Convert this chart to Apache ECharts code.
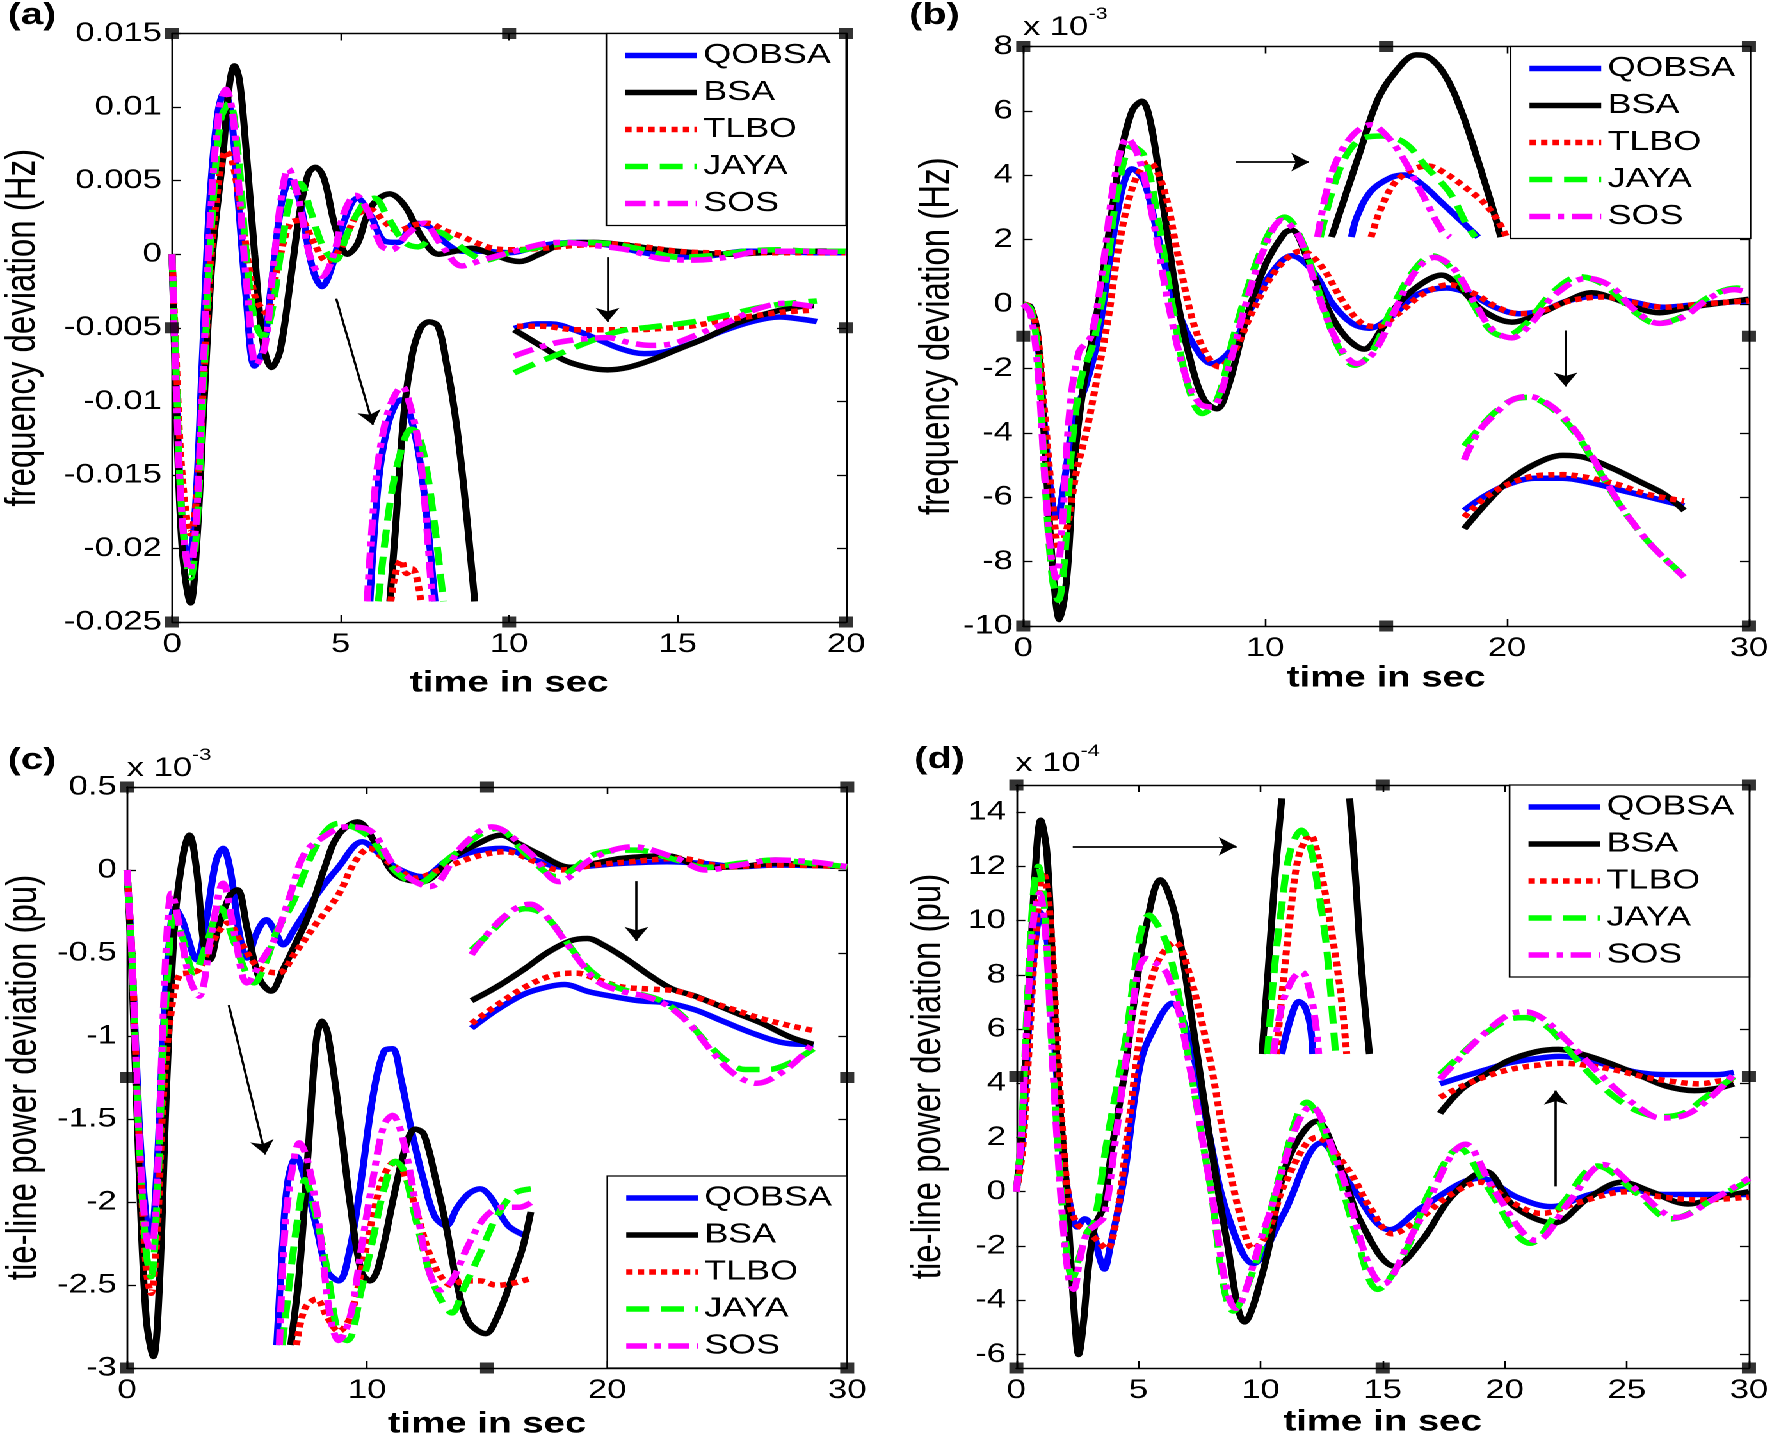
<!DOCTYPE html>
<html>
<head>
<meta charset="utf-8" />
<title>frequency and tie-line deviations</title>
<script src="https://cdn.jsdelivr.net/npm/echarts@6/dist/echarts.min.js"></script>
<style type="text/css">
body, html {
	margin: 0;
	padding: 0;
	background: #fff;
	overflow: hidden;
}
/* the original figure is stretched sideways, so the chart is drawn narrow and widened */
#chart {
	width: 1384px;
	height: 1442px;
	transform: scaleX(1.28035);
	transform-origin: 0 0;
}
</style>
</head>
<body>
<div id="chart"></div>
<script>
const algorithms = ['QOBSA', 'BSA', 'TLBO', 'JAYA', 'SOS'];

// ---------- (a) frequency deviation, area 1 ----------
const aXTicks = [0, 20, 5];
const aYTicks = [-0.025, 0.015, 0.005];
const aQobsa = [[0,0],[0.12,-0.009],[0.3,-0.018],[0.5,-0.021],[0.7,-0.017],[0.9,-0.007],[1.1,0.003],[1.35,0.0095],[1.55,0.011],[1.75,0.0095],[1.95,0.004],[2.2,-0.003],[2.45,-0.0076],[2.7,-0.0065],[2.95,-0.002],[3.25,0.0035],[3.5,0.005],[3.8,0.0035],[4.15,-0.0008],[4.45,-0.0022],[4.75,-0.0008],[5.1,0.0022],[5.5,0.0038],[5.9,0.0026],[6.3,0.0009],[6.7,0.0008],[7.2,0.0021],[7.6,0.0019],[8.1,0.0008],[8.6,0.0002],[9.2,0.0002],[10,0.0001],[11,0.0006],[12,0.0008],[13,0.0006],[14,0.0001],[15,-0.0002],[16,-0.0001],[17,0.0002],[18,0.0002],[19,0.0001],[20,0.0001]];
const aBsa = [[0,0],[0.12,-0.01],[0.3,-0.02],[0.55,-0.0237],[0.75,-0.019],[0.95,-0.01],[1.2,0],[1.5,0.0065],[1.7,0.0115],[1.85,0.0128],[2.0,0.0118],[2.2,0.007],[2.45,0],[2.7,-0.006],[2.95,-0.0077],[3.2,-0.0066],[3.5,-0.002],[3.8,0.003],[4.05,0.0055],[4.25,0.0059],[4.5,0.0052],[4.85,0.0018],[5.2,0],[5.5,0.0007],[5.9,0.0032],[6.45,0.0041],[6.9,0.0033],[7.4,0.0012],[7.9,0],[8.4,0.0002],[8.9,0.0004],[9.5,0],[10.3,-0.0005],[10.9,0],[11.6,0.0007],[12.5,0.0008],[13.5,0.0006],[14.5,0.0003],[15.5,0.0001],[16.5,0],[17.5,0.0001],[18.5,0.0002],[20,0.0002]];
const aTlbo = [[0,0],[0.12,-0.007],[0.3,-0.015],[0.55,-0.019],[0.75,-0.016],[0.95,-0.008],[1.2,0.001],[1.45,0.006],[1.6,0.007],[1.8,0.0062],[2.1,0.002],[2.45,-0.0028],[2.8,-0.004],[3.1,-0.0012],[3.5,0.0021],[3.8,0.0023],[4.2,0.0008],[4.6,-0.0005],[5.0,0.0004],[5.5,0.0027],[5.9,0.003],[6.3,0.0022],[6.7,0.0016],[7.2,0.002],[7.6,0.0021],[8.1,0.0016],[8.6,0.0012],[9.0,0.0008],[9.5,0.0004],[10,0.0003],[11,0.0004],[12,0.0006],[13,0.0007],[14,0.0005],[15,0.0002],[16,0.0001],[17,0.0001],[18,0.0001],[20,0.0001]];
const aJaya = [[0,0],[0.12,-0.008],[0.3,-0.018],[0.55,-0.022],[0.75,-0.018],[0.95,-0.008],[1.2,0.003],[1.45,0.0092],[1.7,0.0103],[1.95,0.007],[2.2,0],[2.45,-0.0045],[2.7,-0.0056],[2.95,-0.004],[3.25,0.0005],[3.55,0.0042],[3.8,0.0048],[4.1,0.003],[4.5,0.0004],[4.85,-0.0004],[5.2,0.0014],[5.7,0.0035],[6.0,0.0038],[6.4,0.0025],[6.9,0.0008],[7.3,0.0005],[7.9,0.0015],[8.3,0.001],[8.8,0.0001],[9.3,-0.0004],[10,0.0001],[11,0.0005],[12,0.0008],[13,0.0007],[14,0.0003],[15,-0.0002],[16,-0.0001],[17,0.0002],[18,0.0003],[19,0.0002],[20,0.0002]];
const aSos = [[0,0],[0.12,-0.009],[0.3,-0.018],[0.52,-0.0215],[0.72,-0.018],[0.92,-0.008],[1.15,0.003],[1.4,0.0098],[1.6,0.0112],[1.8,0.0095],[2.0,0.004],[2.25,-0.003],[2.5,-0.0075],[2.75,-0.0063],[3.0,-0.001],[3.25,0.004],[3.45,0.0058],[3.75,0.0038],[4.1,-0.0002],[4.45,-0.0015],[4.8,0],[5.1,0.0028],[5.45,0.004],[5.8,0.003],[6.2,0.0006],[6.5,0.0003],[7.0,0.0014],[7.45,0.0021],[8.0,0.0006],[8.6,-0.0008],[9.2,-0.0004],[10,0.0001],[11,0.0007],[11.6,0.0008],[12.5,0.0006],[13.5,0.0003],[14.5,-0.0003],[15.5,-0.0004],[16.5,-0.0002],[17.5,0.0002],[18.5,0.0002],[20,0.0001]];
// zoomed views drawn inside panel (a)
const aPeakQobsa = [[5.87,-0.0236],[6.12,-0.0155],[6.38,-0.0118],[6.63,-0.0102],[6.8,-0.0099],[7.0,-0.0105],[7.3,-0.0133],[7.55,-0.0177],[7.8,-0.0236]];
const aPeakBsa = [[6.46,-0.0236],[6.63,-0.0186],[6.88,-0.0108],[7.13,-0.0068],[7.38,-0.005],[7.63,-0.0046],[7.89,-0.0049],[8.14,-0.0074],[8.39,-0.0108],[8.64,-0.0155],[8.98,-0.0236]];
const aPeakTlbo = [[6.49,-0.0236],[6.63,-0.0217],[6.8,-0.0208],[6.96,-0.0217],[7.13,-0.0214],[7.26,-0.022],[7.38,-0.0236]];
const aPeakJaya = [[6.12,-0.0236],[6.46,-0.017],[6.8,-0.0133],[7.1,-0.0119],[7.3,-0.0122],[7.55,-0.0146],[7.8,-0.0186],[8.05,-0.0236]];
const aPeakSos = [[5.79,-0.0236],[6.04,-0.0155],[6.29,-0.0118],[6.54,-0.0099],[6.83,-0.009],[7.05,-0.0102],[7.3,-0.0127],[7.5,-0.017],[7.72,-0.0236]];
const aTailQobsa = [[10.15,-0.00505],[10.82,-0.00474],[11.24,-0.00474],[12.0,-0.0052],[12.67,-0.00583],[13.34,-0.00645],[14.01,-0.00676],[14.68,-0.00661],[15.52,-0.00598],[16.36,-0.0052],[17.2,-0.00458],[18.04,-0.00427],[18.71,-0.00443],[19.13,-0.00458]];
const aTailBsa = [[10.15,-0.00514],[10.99,-0.0063],[11.66,-0.00723],[12.33,-0.0077],[12.92,-0.00786],[13.51,-0.0077],[14.18,-0.00723],[15.02,-0.00645],[15.86,-0.00567],[16.69,-0.00474],[17.53,-0.00411],[18.37,-0.00365],[19.04,-0.00349]];
const aTailTlbo = [[10.23,-0.0049],[10.99,-0.0049],[12.0,-0.00514],[12.92,-0.00514],[13.67,-0.00514],[14.51,-0.00505],[15.35,-0.0049],[16.19,-0.00458],[17.03,-0.00427],[18.04,-0.00396],[19.04,-0.0038]];
const aTailJaya = [[10.15,-0.00807],[10.82,-0.00739],[11.66,-0.00661],[12.5,-0.00583],[13.34,-0.0052],[14.18,-0.00496],[15.02,-0.00474],[15.86,-0.00443],[16.69,-0.00402],[17.53,-0.00358],[18.37,-0.00333],[19.13,-0.00318]];
const aTailSos = [[10.15,-0.00692],[10.82,-0.00639],[11.49,-0.00598],[12.16,-0.00577],[12.92,-0.00567],[13.51,-0.00598],[14.18,-0.0062],[14.85,-0.00608],[15.69,-0.00536],[16.53,-0.00458],[17.37,-0.00371],[18.2,-0.00333],[19.04,-0.00358]];
const aArrows = [[[4.87,-0.00302],[5.96,-0.0116]], [[12.92,-0.0002],[12.92,-0.0046]]];

// ---------- (b) frequency deviation, area 2 (x 10^-3) ----------
const bXTicks = [0, 30, 10];
const bYTicks = [-10, 8, 2];
const bQobsa = [[0,0],[0.3,-0.1],[0.6,-1.2],[0.9,-4],[1.2,-6.2],[1.4,-6.6],[1.7,-5.5],[2.1,-3.5],[2.6,-2.5],[3.1,-1.0],[3.6,1.5],[4.1,3.6],[4.5,4.2],[5.0,3.8],[5.6,2.0],[6.3,0],[7.0,-1.2],[7.8,-1.85],[8.5,-1.5],[9.3,-0.3],[10.2,0.9],[11.1,1.5],[12,1.0],[12.8,0],[13.6,-0.6],[14.3,-0.75],[15.2,-0.4],[16.3,0.3],[17.5,0.5],[18.5,0.3],[19.5,-0.1],[20.5,-0.3],[21.5,-0.2],[22.5,0.1],[23.8,0.25],[25,0.1],[26.5,-0.1],[28,0],[30,0.1]];
const bBsa = [[0,0],[0.3,-0.1],[0.6,-1.0],[0.9,-4.5],[1.2,-8.0],[1.5,-9.8],[1.8,-8.5],[2.1,-5],[2.5,-2.5],[3.0,-0.5],[3.5,2.0],[4.0,4.5],[4.5,6.0],[4.9,6.3],[5.3,5.5],[5.8,3.0],[6.4,0],[7.0,-2.0],[7.5,-3.0],[8.0,-3.25],[8.5,-2.5],[9.2,-0.5],[10,1.2],[10.8,2.2],[11.1,2.3],[11.7,1.5],[12.5,0],[13.3,-1.0],[14.1,-1.4],[14.8,-0.8],[15.5,0],[16.5,0.65],[17.3,0.9],[18,0.55],[19,-0.2],[20.2,-0.56],[21.2,-0.35],[22.5,0.1],[23.5,0.35],[24.5,0.15],[25.5,-0.15],[26.3,-0.27],[27.5,-0.1],[28.5,0],[30,0.15]];
const bTlbo = [[0,0],[0.3,-0.1],[0.6,-1.0],[0.9,-3.5],[1.2,-6.0],[1.5,-7.6],[1.8,-7.0],[2.2,-5.2],[2.6,-4.0],[3.0,-2.5],[3.5,-0.5],[4.0,2.0],[4.6,3.8],[5.2,4.4],[5.8,3.6],[6.4,1.5],[7.0,-0.5],[7.6,-1.6],[8.1,-1.95],[8.7,-1.5],[9.5,-0.2],[10.5,1.1],[11.5,1.65],[12.3,1.2],[13.2,0.1],[14.0,-0.6],[14.6,-0.7],[15.5,-0.3],[16.5,0.3],[17.6,0.6],[18.7,0.3],[19.6,-0.1],[20.5,-0.3],[21.5,-0.2],[22.6,0.1],[24,0.22],[25.2,0.05],[26.5,-0.1],[28,0],[30,0.1]];
const bJaya = [[0,0],[0.3,-0.15],[0.6,-1.5],[0.9,-5.5],[1.2,-8.5],[1.45,-9.2],[1.7,-8.0],[2.0,-4.5],[2.4,-2.3],[2.9,-1.2],[3.4,0.8],[3.9,3.5],[4.5,4.9],[5.0,4.6],[5.6,2.5],[6.2,-0.2],[6.8,-2.5],[7.4,-3.4],[8.0,-3.0],[8.7,-1.0],[9.5,1.0],[10.3,2.4],[10.8,2.7],[11.5,2.0],[12.3,0.2],[13.0,-1.3],[13.7,-1.9],[14.4,-1.5],[15.2,-0.2],[16.1,1.0],[16.9,1.5],[17.7,1.1],[18.6,0],[19.3,-0.8],[19.9,-1.0],[20.8,-0.6],[21.8,0.3],[23,0.85],[24,0.6],[25.2,-0.2],[26.2,-0.6],[27.2,-0.4],[28.3,0.2],[29.5,0.5],[30,0.4]];
const bSos = [[0,0],[0.3,-0.3],[0.6,-2.0],[0.9,-5.5],[1.15,-7.8],[1.35,-8.5],[1.6,-7.0],[1.9,-3.5],[2.3,-1.5],[2.8,-1.0],[3.3,1.2],[3.8,4.0],[4.3,5.15],[4.8,4.5],[5.4,2.5],[6.0,0],[6.7,-2.2],[7.3,-3.1],[7.8,-3.2],[8.4,-2.2],[9.2,0],[10.0,1.8],[10.7,2.6],[11.4,2.1],[12.2,0.3],[13.0,-1.2],[13.8,-1.85],[14.5,-1.5],[15.3,-0.3],[16.2,1.0],[17.0,1.45],[17.8,1.1],[18.7,0],[19.4,-0.8],[20.2,-1.05],[21.0,-0.6],[22.0,0.3],[23.3,0.8],[24.3,0.55],[25.3,-0.2],[26.3,-0.6],[27.3,-0.4],[28.4,0.2],[29.4,0.45],[30,0.35]];
const bPeakQobsa = [[13.57,2.08],[13.8,2.72],[14.38,3.51],[15.2,3.93],[15.78,4.01],[16.48,3.72],[17.3,3.15],[18.11,2.58],[18.81,2.08]];
const bPeakBsa = [[12.75,2.08],[13.22,3.15],[13.92,4.72],[14.62,6.29],[15.31,7.14],[16.25,7.74],[16.71,7.69],[17.41,7.14],[18.11,6.0],[18.81,4.43],[19.51,2.72],[19.74,2.08]];
const bPeakTlbo = [[14.38,2.08],[14.73,2.86],[15.31,3.72],[16.01,4.15],[16.71,4.29],[17.41,4.08],[18.35,3.58],[19.04,3.15],[19.63,2.58],[19.98,2.08]];
const bPeakJaya = [[12.28,2.08],[12.75,3.44],[13.33,4.58],[14.03,5.15],[14.85,5.22],[15.78,5.0],[16.71,4.22],[17.65,3.44],[18.35,2.44],[18.69,2.08]];
const bPeakSos = [[12.17,2.08],[12.52,3.44],[12.98,4.5],[13.68,5.29],[14.38,5.57],[14.85,5.36],[15.55,4.72],[16.48,3.44],[17.3,2.29],[17.65,2.08]];
const bTailQobsa = [[18.23,-6.41],[19.04,-5.98],[19.98,-5.62],[21.14,-5.41],[22.31,-5.41],[23.47,-5.55],[24.64,-5.77],[25.8,-5.98],[27.32,-6.27]];
const bTailBsa = [[18.23,-6.98],[19.04,-6.27],[19.98,-5.55],[21.14,-4.98],[22.31,-4.7],[23.24,-4.77],[24.41,-5.12],[25.57,-5.55],[26.5,-5.91],[27.32,-6.41]];
const bTailTlbo = [[18.23,-6.62],[19.04,-6.05],[19.98,-5.62],[21.14,-5.34],[22.31,-5.3],[23.47,-5.41],[24.64,-5.62],[25.8,-5.91],[27.32,-6.12]];
const bTailJaya = [[18.23,-4.41],[18.81,-3.9],[19.51,-3.35],[20.21,-2.98],[20.91,-2.9],[21.61,-3.1],[22.31,-3.55],[23.01,-4.2],[23.71,-5.05],[24.41,-5.95],[25.1,-6.7],[26.04,-7.55],[27.32,-8.45]];
const bTailSos = [[18.23,-4.84],[18.81,-3.98],[19.51,-3.41],[20.21,-2.98],[20.91,-2.87],[21.61,-3.06],[22.31,-3.48],[23.01,-4.13],[23.71,-4.98],[24.41,-5.91],[25.1,-6.69],[26.04,-7.55],[27.32,-8.48]];
const bArrows = [[[8.79,4.41],[11.82,4.41]], [[22.42,-0.82],[22.42,-2.56]]];

// ---------- (c) tie-line power deviation (x 10^-3) ----------
const cXTicks = [0, 30, 10];
const cYTicks = [-3, 0.5, 0.5];
const cQobsa = [[0,0],[0.2,-0.5],[0.5,-1.5],[0.8,-2.1],[1.0,-2.2],[1.25,-1.8],[1.5,-1.0],[1.75,-0.45],[2.0,-0.23],[2.3,-0.3],[2.9,-0.54],[3.3,-0.3],[3.7,0.05],[4.0,0.13],[4.3,0],[4.7,-0.4],[5.0,-0.53],[5.4,-0.38],[5.8,-0.3],[6.2,-0.38],[6.5,-0.45],[7.0,-0.35],[7.9,-0.15],[8.8,0.015],[9.8,0.17],[10.5,0.1],[11.2,0.015],[12.3,-0.04],[13.5,0.07],[15.6,0.13],[17,0.06],[18.2,0.016],[20.6,0.04],[22.5,0.05],[24,0.04],[25.5,0.02],[27,0.03],[30,0.02]];
const cBsa = [[0,0],[0.2,-0.6],[0.5,-1.8],[0.8,-2.7],[1.1,-2.93],[1.35,-2.5],[1.65,-1.3],[2.0,-0.3],[2.35,0.1],[2.6,0.21],[2.9,0],[3.2,-0.45],[3.45,-0.54],[3.8,-0.35],[4.3,-0.15],[4.6,-0.12],[5.0,-0.35],[5.5,-0.65],[6.0,-0.73],[6.5,-0.6],[7.0,-0.45],[7.6,-0.26],[8.2,0],[8.8,0.21],[9.6,0.29],[10.4,0.15],[11.2,-0.03],[12.3,-0.07],[13.5,0.07],[14.5,0.15],[15.6,0.21],[16.3,0.16],[17.1,0.1],[18.5,0.016],[19.5,0.04],[20.6,0.07],[22.5,0.085],[24.1,0.016],[25.5,0.02],[27,0.04],[28.5,0.03],[30,0.02]];
const cTlbo = [[0,0],[0.2,-0.5],[0.5,-1.6],[0.8,-2.4],[1.0,-2.55],[1.25,-2.2],[1.5,-1.4],[1.8,-0.9],[2.2,-0.63],[2.6,-0.62],[3.0,-0.6],[3.5,-0.45],[4.2,-0.32],[4.8,-0.45],[5.5,-0.59],[6.3,-0.62],[7.0,-0.5],[7.9,-0.32],[8.8,-0.15],[9.5,0.05],[10.1,0.13],[10.6,0.08],[11.2,0.016],[12.0,-0.05],[13,0],[14.5,0.08],[15.8,0.11],[17,0.05],[18,0],[19.5,0.03],[21,0.05],[23,0.07],[25,0.02],[27,0.03],[30,0.02]];
const cJaya = [[0,0],[0.2,-0.5],[0.5,-1.6],[0.8,-2.3],[1.0,-2.45],[1.25,-2.0],[1.5,-1.1],[1.75,-0.5],[1.95,-0.28],[2.3,-0.4],[2.8,-0.62],[3.3,-0.45],[3.9,-0.23],[4.5,-0.45],[5.3,-0.68],[5.8,-0.55],[6.2,-0.38],[6.9,-0.2],[7.9,0.15],[8.8,0.28],[10,0.21],[11.2,-0.01],[12.1,-0.08],[13.5,0.08],[15.4,0.25],[16.6,0.1],[17.9,-0.04],[19.6,0.1],[21.2,0.12],[22.9,0.06],[24.1,0.016],[25.5,0.04],[27,0.06],[28.5,0.04],[30,0.02]];
const cSos = [[0,0],[0.2,-0.5],[0.5,-1.6],[0.8,-2.2],[1.0,-2.3],[1.25,-1.9],[1.5,-0.9],[1.7,-0.3],[1.85,-0.14],[2.2,-0.35],[2.6,-0.65],[3.0,-0.76],[3.5,-0.4],[4.0,-0.08],[4.5,-0.4],[5.0,-0.68],[5.6,-0.55],[6.2,-0.4],[6.8,-0.15],[7.4,0.1],[8.2,0.2],[9.1,0.26],[10.1,0.24],[11.2,0.016],[12.6,-0.1],[14,0.15],[15.2,0.26],[16.8,0.1],[18,-0.07],[19.4,0.07],[21.05,0.14],[22.9,0.07],[24.1,0],[25.5,0.03],[27,0.06],[28.5,0.05],[30,0.02]];
const cEarlyQobsa = [[6.24,-2.862],[6.47,-2.281],[6.71,-1.866],[7.06,-1.727],[7.41,-1.866],[7.88,-2.143],[8.35,-2.419],[8.82,-2.475],[9.29,-2.281],[9.76,-1.866],[10.24,-1.368],[10.71,-1.091],[11.06,-1.077],[11.41,-1.257],[11.88,-1.589],[12.35,-1.866],[12.82,-2.087],[13.29,-2.143],[13.76,-2.032],[14.24,-1.949],[14.71,-1.921],[15.18,-1.977],[15.88,-2.143],[16.71,-2.21]];
const cEarlyBsa = [[6.82,-2.862],[7.18,-2.419],[7.53,-1.727],[7.88,-1.036],[8.12,-0.911],[8.35,-0.98],[8.82,-1.451],[9.29,-2.004],[9.76,-2.419],[10.12,-2.475],[10.47,-2.392],[11.18,-1.921],[11.65,-1.644],[12.0,-1.561],[12.35,-1.589],[12.82,-1.838],[13.29,-2.143],[13.76,-2.502],[14.24,-2.724],[14.94,-2.793],[15.41,-2.696],[16.0,-2.475],[16.47,-2.281],[16.82,-2.06]];
const cEarlyTlbo = [[7.06,-2.862],[7.41,-2.641],[7.88,-2.585],[8.35,-2.696],[8.82,-2.779],[9.29,-2.696],[9.76,-2.419],[10.24,-2.087],[10.71,-1.838],[11.18,-1.755],[11.65,-1.866],[12.12,-2.087],[12.59,-2.309],[13.06,-2.447],[13.53,-2.502],[14.0,-2.475],[14.71,-2.475],[15.41,-2.502],[16.12,-2.488],[16.82,-2.461]];
const cEarlyJaya = [[6.47,-2.862],[6.82,-2.419],[7.18,-2.032],[7.41,-1.866],[7.88,-2.087],[8.35,-2.419],[8.82,-2.807],[9.18,-2.834],[9.76,-2.53],[10.24,-2.226],[10.71,-1.921],[11.18,-1.755],[11.53,-1.81],[12.0,-2.087],[12.59,-2.419],[13.06,-2.585],[13.53,-2.668],[14.0,-2.53],[14.71,-2.309],[15.41,-2.087],[16.12,-1.949],[16.82,-1.921]];
const cEarlySos = [[6.35,-2.862],[6.59,-2.143],[6.94,-1.755],[7.18,-1.644],[7.53,-1.755],[8.0,-2.143],[8.47,-2.696],[8.82,-2.834],[9.29,-2.696],[9.76,-2.281],[10.24,-1.866],[10.71,-1.534],[11.06,-1.478],[11.53,-1.644],[12.12,-2.087],[12.59,-2.419],[13.06,-2.53],[13.53,-2.475],[14.24,-2.253],[14.94,-2.087],[15.65,-2.032],[16.35,-2.032],[16.82,-2.004]];
const cTailQobsa = [[14.35,-0.953],[15.41,-0.842],[16.59,-0.745],[17.53,-0.704],[18.24,-0.69],[19.18,-0.731],[20.12,-0.759],[21.29,-0.787],[22.47,-0.8],[23.65,-0.842],[24.82,-0.911],[26.0,-0.98],[27.18,-1.036],[28.12,-1.05],[28.59,-1.05]];
const cTailBsa = [[14.35,-0.787],[15.41,-0.704],[16.59,-0.593],[17.53,-0.496],[18.47,-0.427],[19.18,-0.413],[19.88,-0.455],[20.82,-0.538],[21.76,-0.634],[22.71,-0.717],[23.65,-0.759],[24.59,-0.814],[25.53,-0.87],[26.47,-0.925],[27.65,-1.008],[28.59,-1.05]];
const cTailTlbo = [[14.35,-0.925],[15.41,-0.814],[16.59,-0.704],[17.76,-0.634],[18.71,-0.621],[19.65,-0.662],[20.59,-0.704],[21.76,-0.717],[22.94,-0.731],[24.12,-0.787],[25.29,-0.842],[26.47,-0.897],[27.65,-0.939],[28.59,-0.967]];
const cTailJaya = [[14.35,-0.482],[15.18,-0.372],[15.88,-0.275],[16.59,-0.233],[17.29,-0.261],[18.0,-0.372],[18.71,-0.51],[19.41,-0.621],[20.35,-0.704],[21.29,-0.745],[22.24,-0.787],[23.18,-0.884],[24.12,-1.036],[25.06,-1.16],[25.76,-1.202],[26.71,-1.202],[27.65,-1.16],[28.59,-1.077]];
const cTailSos = [[14.35,-0.51],[14.94,-0.399],[15.65,-0.289],[16.35,-0.219],[16.82,-0.206],[17.53,-0.289],[18.24,-0.427],[18.94,-0.565],[19.65,-0.676],[20.59,-0.731],[21.53,-0.759],[22.47,-0.814],[23.41,-0.925],[24.35,-1.091],[25.29,-1.229],[26.24,-1.285],[27.18,-1.229],[28.12,-1.119],[28.59,-1.036]];
const cArrows = [[[4.24,-0.814],[5.76,-1.714]], [[21.22,-0.067],[21.22,-0.427]]];

// ---------- (d) tie-line power deviation (x 10^-4) ----------
const dXTicks = [0, 30, 5];
const dYRange = [-6.5, 15];
const dYTicks = [-6, -4, -2, 0, 2, 4, 6, 8, 10, 12, 14];
const dQobsa = [[0,0],[0.25,2.0],[0.5,6.0],[0.75,9.0],[1.0,10.3],[1.3,9.0],[1.6,5.0],[1.9,1.5],[2.2,-0.5],[2.5,-1.3],[2.8,-1.0],[3.1,-1.3],[3.4,-2.4],[3.6,-2.85],[3.85,-2.0],[4.4,0.45],[5.1,4.8],[5.8,6.3],[6.35,6.95],[7.2,5.2],[7.9,2.1],[8.6,-0.7],[9.7,-2.65],[10.9,-0.9],[12.5,1.8],[13.65,0.3],[15.3,-1.4],[16.65,-0.55],[19.0,0.5],[20.5,-0.2],[21.9,-0.55],[23.5,-0.1],[25.0,0.1],[26.5,-0.1],[28,-0.1],[30,-0.1]];
const dBsa = [[0,0],[0.25,2.5],[0.5,7.0],[0.75,11.5],[1.0,13.7],[1.25,12.5],[1.5,8.0],[1.75,3.5],[2.0,0.8],[2.2,-2.1],[2.4,-4.8],[2.55,-6.0],[2.75,-4.8],[2.95,-2.8],[3.2,-1.3],[3.4,-0.9],[3.6,-0.5],[3.9,1.5],[4.4,4.2],[4.85,7.2],[5.3,9.7],[5.9,11.5],[6.5,10.2],[7.2,6.3],[7.9,2.1],[8.6,-1.7],[9.35,-4.8],[10.2,-2.6],[11.1,1.1],[12.3,2.6],[13.2,1.1],[14.1,-1.1],[15.5,-2.75],[16.65,-1.75],[17.8,-0.2],[19.2,0.75],[20.4,-0.55],[22.0,-1.15],[23.4,-0.25],[24.8,0.35],[26,0],[27.5,-0.45],[28.8,-0.2],[30,0]];
const dTlbo = [[0,0],[0.25,1.5],[0.5,5.0],[0.8,9.5],[1.1,11.8],[1.35,10.5],[1.65,6.0],[1.95,1.5],[2.2,-0.5],[2.5,-1.2],[2.8,-1.4],[3.2,-1.7],[3.7,-2.1],[4.1,-1.0],[4.6,2.5],[5.2,6.5],[5.8,8.5],[6.5,9.2],[7.1,8.0],[7.9,5.0],[8.6,1.5],[9.2,-1.0],[9.7,-2.1],[10.3,-1.5],[11.0,0.3],[12.3,2.0],[13.6,0.8],[14.5,-0.6],[15.4,-1.55],[16.5,-1.0],[17.8,-0.1],[19.0,0.35],[20.3,-0.4],[21.5,-0.8],[23.0,-0.4],[25,0],[26.5,-0.2],[28,-0.3],[30,-0.2]];
const dJaya = [[0,0],[0.2,2.0],[0.45,7.0],[0.7,11.0],[0.9,12.0],[1.15,10.5],[1.45,5.5],[1.8,0.5],[2.1,-2.5],[2.3,-3.2],[2.55,-2.5],[2.9,-1.5],[3.2,-1.1],[3.7,1.8],[4.4,5.2],[5.45,10.2],[6.25,8.9],[7.2,4.15],[7.9,0.45],[8.9,-4.4],[9.95,-2.25],[10.9,0.95],[11.9,3.3],[12.95,1.3],[13.9,-1.55],[14.8,-3.6],[16.0,-2.1],[16.9,-0.05],[18.15,1.6],[19.2,0.3],[21.05,-1.9],[22.4,-0.4],[23.8,0.95],[25.4,-0.05],[26.8,-1.0],[28.7,-0.2],[30,0.4]];
const dSos = [[0,0],[0.2,2.0],[0.45,6.5],[0.7,10.0],[0.95,11.0],[1.2,9.5],[1.5,4.5],[1.85,-0.5],[2.15,-3.2],[2.35,-3.6],[2.6,-2.5],[2.9,-1.5],[3.3,-1.2],[3.6,-0.9],[4.0,1.5],[4.6,5.5],[5.3,8.6],[6.2,8.0],[7.2,4.15],[7.9,0.45],[9.0,-4.3],[10.2,-1.25],[12.1,3.15],[13.2,0.95],[15.05,-3.4],[16.4,-1.25],[18.4,1.75],[19.6,0],[21.3,-1.8],[22.7,-0.3],[24.05,1.0],[25.5,0],[27.05,-0.95],[28.5,-0.3],[30,0.5]];
const dPeakQobsa = [[10.87,5.08],[11.22,6.34],[11.57,7.01],[11.8,6.85],[12.03,6.17],[12.14,5.08]];
const dPeakBsaRise = [[10.06,5.08],[10.29,7.86],[10.53,10.89],[10.76,13.41],[10.87,14.51]];
const dPeakBsaFall = [[13.65,14.51],[13.88,11.73],[14.11,8.53],[14.46,5.08]];
const dPeakTlbo = [[10.64,5.08],[10.87,7.18],[11.22,10.21],[11.57,12.4],[12.03,13.16],[12.49,11.73],[12.95,9.37],[13.3,7.18],[13.53,5.08]];
const dPeakJaya = [[10.29,5.08],[10.53,7.86],[10.87,10.55],[11.22,12.57],[11.68,13.33],[12.03,12.74],[12.38,11.05],[12.72,8.87],[13.07,5.08]];
const dPeakSos = [[10.53,5.08],[10.87,6.85],[11.33,7.86],[11.68,8.11],[12.03,7.35],[12.26,6.17],[12.38,5.08]];
const dTailQobsa = [[17.35,3.98],[18.27,4.24],[19.2,4.49],[20.12,4.74],[21.28,4.91],[22.21,4.99],[23.13,4.91],[24.29,4.66],[25.45,4.4],[26.6,4.32],[27.76,4.32],[28.68,4.32],[29.38,4.4]];
const dTailBsa = [[17.35,2.89],[18.27,3.81],[19.2,4.32],[20.12,4.82],[21.28,5.16],[22.21,5.25],[23.13,5.08],[24.29,4.74],[25.45,4.32],[26.6,3.9],[27.76,3.73],[28.68,3.81],[29.38,3.98]];
const dTailTlbo = [[17.35,3.48],[18.27,3.9],[19.2,4.24],[20.12,4.49],[21.28,4.66],[22.44,4.74],[23.36,4.66],[24.52,4.49],[25.68,4.24],[26.83,4.07],[27.99,3.98],[28.68,4.07],[29.38,4.15]];
const dTailJaya = [[17.35,4.32],[18.04,4.91],[18.97,5.67],[20.12,6.34],[20.82,6.42],[21.74,6.09],[22.67,5.16],[23.59,4.24],[24.52,3.48],[25.45,2.97],[26.37,2.77],[27.3,2.89],[28.22,3.48],[29.38,4.24]];
const dTailSos = [[17.35,4.15],[18.04,4.82],[18.97,5.67],[20.12,6.51],[20.82,6.64],[21.51,6.42],[22.44,5.67],[23.36,4.82],[24.52,3.81],[25.45,3.14],[26.37,2.72],[27.3,2.8],[28.22,3.31],[29.38,4.32]];
const dArrows = [[[2.31,12.74],[9.02,12.74]], [[22.09,0.2],[22.09,3.73]]];

// ---------- styles ----------
const FONT = "'Liberation Sans', Arial, Helvetica, sans-serif";
const colors = ['#0000ff', '#000000', '#ff0000', '#00ff00', '#ff00ff'];
const dashes = ['solid', 'solid', [5, 4], [18, 9], [16, 6, 5, 6]];
const LW = 5.5;
const CW = 1384, CH = 1442;

const panels = [
	{ label: '(a)', labelPos: [6, 0], grid: { left: 134.4, top: 33.5, width: 526.5, height: 588.5 },
	  x: aXTicks, y: aYTicks, yName: 'frequency deviation (Hz)', yGap: 100, xGap: 46,
	  legend: { right: CW - 660.9, top: 33.5 }, exp: null,
	  main: [aQobsa, aBsa, aTlbo, aJaya, aSos],
	  zooms: [[aPeakQobsa, aPeakBsa, aPeakTlbo, aPeakJaya, aPeakSos], [aTailQobsa, aTailBsa, aTailTlbo, aTailJaya, aTailSos]],
	  arrows: aArrows },
	{ label: '(b)', labelPos: [710, 0], grid: { left: 799.2, top: 46.5, width: 568, height: 579.5 },
	  x: bXTicks, y: bYTicks, yName: 'frequency deviation (Hz)', yGap: 46, xGap: 37,
	  legend: { right: CW - 1367.2, top: 46.5 },
	  exp: { text: '-3', base: [799, 14], sup: [850, 6] },
	  main: [bQobsa, bBsa, bTlbo, bJaya, bSos],
	  zooms: [[bPeakQobsa, bPeakBsa, bPeakTlbo, bPeakJaya, bPeakSos], [bTailQobsa, bTailBsa, bTailTlbo, bTailJaya, bTailSos]],
	  arrows: bArrows },
	{ label: '(c)', labelPos: [6, 745], grid: { left: 99.2, top: 787, width: 562.5, height: 581 },
	  x: cXTicks, y: cYTicks, yName: 'tie-line power deviation (pu)', yGap: 64, xGap: 41,
	  legend: { right: CW - 661.7, bottom: CH - 1368 },
	  exp: { text: '-3', base: [99, 755], sup: [150, 747] },
	  main: [cQobsa, cBsa, cTlbo, cJaya, cSos],
	  zooms: [[cEarlyQobsa, cEarlyBsa, cEarlyTlbo, cEarlyJaya, cEarlySos], [cTailQobsa, cTailBsa, cTailTlbo, cTailJaya, cTailSos]],
	  arrows: cArrows },
	{ label: '(d)', labelPos: [714, 744], grid: { left: 793.8, top: 785, width: 572.6, height: 583 },
	  x: dXTicks, y: null, yName: 'tie-line power deviation (pu)', yGap: 52, xGap: 39,
	  legend: { right: CW - 1366.4, top: 785 },
	  exp: { text: '-4', base: [793, 750], sup: [844, 743] },
	  main: [dQobsa, dBsa, dTlbo, dJaya, dSos],
	  zooms: [[dPeakQobsa, dPeakBsaRise, dPeakTlbo, dPeakJaya, dPeakSos], [dTailQobsa, dTailBsa, dTailTlbo, dTailJaya, dTailSos]],
	  extra: [[1, dPeakBsaFall]],
	  arrows: dArrows }
];

function valueAxis(ticks, range, custom, gi, pos, extra) {
	let ax = {
		type: 'value', gridIndex: gi, position: pos,
		min: range ? range[0] : ticks[0], max: range ? range[1] : ticks[1],
		axisLine: { show: true, onZero: false, lineStyle: { color: '#000', width: 1.4 } },
		axisTick: { show: true, inside: true, length: 7, lineStyle: { color: '#000', width: 1.3 } },
		axisLabel: { show: false, color: '#000', fontSize: 27, fontFamily: FONT, margin: 9 },
		splitLine: { show: false }
	};
	if (custom) {
		ax.axisTick.customValues = custom;
		ax.axisLabel.customValues = custom;
	} else {
		ax.interval = ticks[2];
	}
	return Object.assign(ax, extra || {});
}

let grids = [], xAxes = [], yAxes = [], series = [], legends = [], titles = [];

panels.forEach(function (p, gi) {
	grids.push(Object.assign({ containLabel: false }, p.grid));
	let yRange = p.y ? null : dYRange;
	let yTicks = p.y || [dYRange[0], dYRange[1], 2];
	let yCustom = p.y ? null : dYTicks;

	xAxes.push(valueAxis(p.x, null, null, gi, 'bottom', {
		name: 'time in sec', nameLocation: 'middle', nameGap: p.xGap,
		nameTextStyle: { fontSize: 30, fontWeight: 'bold', color: '#000', fontFamily: FONT }
	}));
	xAxes[xAxes.length - 1].axisLabel.show = true;
	xAxes.push(valueAxis(p.x, null, null, gi, 'top'));

	yAxes.push(valueAxis(yTicks, yRange, yCustom, gi, 'left', {
		name: p.yName, nameLocation: 'middle', nameGap: p.yGap,
		nameTextStyle: { fontSize: 33, color: '#000', fontFamily: FONT }
	}));
	yAxes[yAxes.length - 1].axisLabel.show = true;
	yAxes[yAxes.length - 1].axisLabel.margin = 8;
	yAxes.push(valueAxis(yTicks, yRange, yCustom, gi, 'right'));

	let xi = 2 * gi, yi = 2 * gi;
	function curve(k, data) {
		return {
			type: 'line', name: algorithms[k], data: data,
			xAxisIndex: xi, yAxisIndex: yi,
			symbol: 'none', smooth: 0.35, silent: true,
			lineStyle: { color: colors[k], width: LW, type: dashes[k] },
			itemStyle: { color: colors[k] },
			z: 2 + k
		};
	}
	p.main.forEach(function (d, k) { series.push(curve(k, d)); });
	p.zooms.forEach(function (set) {
		set.forEach(function (d, k) { series.push(curve(k, d)); });
	});
	(p.extra || []).forEach(function (e) { series.push(curve(e[0], e[1])); });

	// arrows pointing at the zoomed views
	series.push({
		type: 'lines', coordinateSystem: 'cartesian2d', xAxisIndex: xi, yAxisIndex: yi,
		data: p.arrows.map(function (c) { return { coords: c }; }),
		symbol: ['none', 'arrow'], symbolSize: [9, 14], silent: true,
		lineStyle: { color: '#000', width: 1.8, opacity: 1, curveness: 0 }, z: 8
	});

	// edit handles at the corners and middles of the axes box
	let x0 = p.x[0], x1 = p.x[1];
	let y0 = p.y ? p.y[0] : dYRange[0], y1 = p.y ? p.y[1] : dYRange[1];
	let xm = (x0 + x1) / 2, ym = (y0 + y1) / 2;
	let handles = [[x0, y0], [xm, y0], [x1, y0], [x0, ym], [x1, ym], [x0, y1], [xm, y1], [x1, y1]];
	series.push({
		type: 'scatter', xAxisIndex: xi, yAxisIndex: yi, data: handles, clip: false, silent: true,
		symbol: 'rect', symbolSize: 11, itemStyle: { color: '#000' }, z: 9
	});

	legends.push(Object.assign({
		data: algorithms, orient: 'vertical', selectedMode: false,
		backgroundColor: '#fff', borderColor: '#000', borderWidth: 1.3, borderRadius: 0,
		padding: [8, 12, 8, 12], itemWidth: 56, itemHeight: 14, itemGap: 9, itemTextGap: 6,
		lineStyle: { width: LW },
		itemStyle: { opacity: 0 },
		textStyle: { fontSize: 28, color: '#000', fontFamily: FONT }
	}, p.legend));

	titles.push({
		text: p.label, left: p.labelPos[0], top: p.labelPos[1], padding: 0,
		textStyle: { fontSize: 31, fontWeight: 'bold', color: '#000', fontFamily: FONT }
	});
	if (p.exp) {
		// axis multiplier, "x 10" with the exponent set higher and smaller
		titles.push({
			text: 'x 10', left: p.exp.base[0], top: p.exp.base[1], padding: 0,
			textStyle: { fontSize: 27, fontWeight: 'normal', color: '#000', fontFamily: FONT }
		});
		titles.push({
			text: p.exp.text, left: p.exp.sup[0], top: p.exp.sup[1], padding: 0,
			textStyle: { fontSize: 17, fontWeight: 'normal', color: '#000', fontFamily: FONT }
		});
	}
});

let chart = echarts.init(document.getElementById('chart'), null, { renderer: 'canvas', devicePixelRatio: 2 });
chart.setOption({
	animation: false,
	backgroundColor: '#fff',
	textStyle: { fontFamily: FONT },
	title: titles,
	legend: legends,
	grid: grids,
	xAxis: xAxes,
	yAxis: yAxes,
	series: series
});
</script>
</body>
</html>
